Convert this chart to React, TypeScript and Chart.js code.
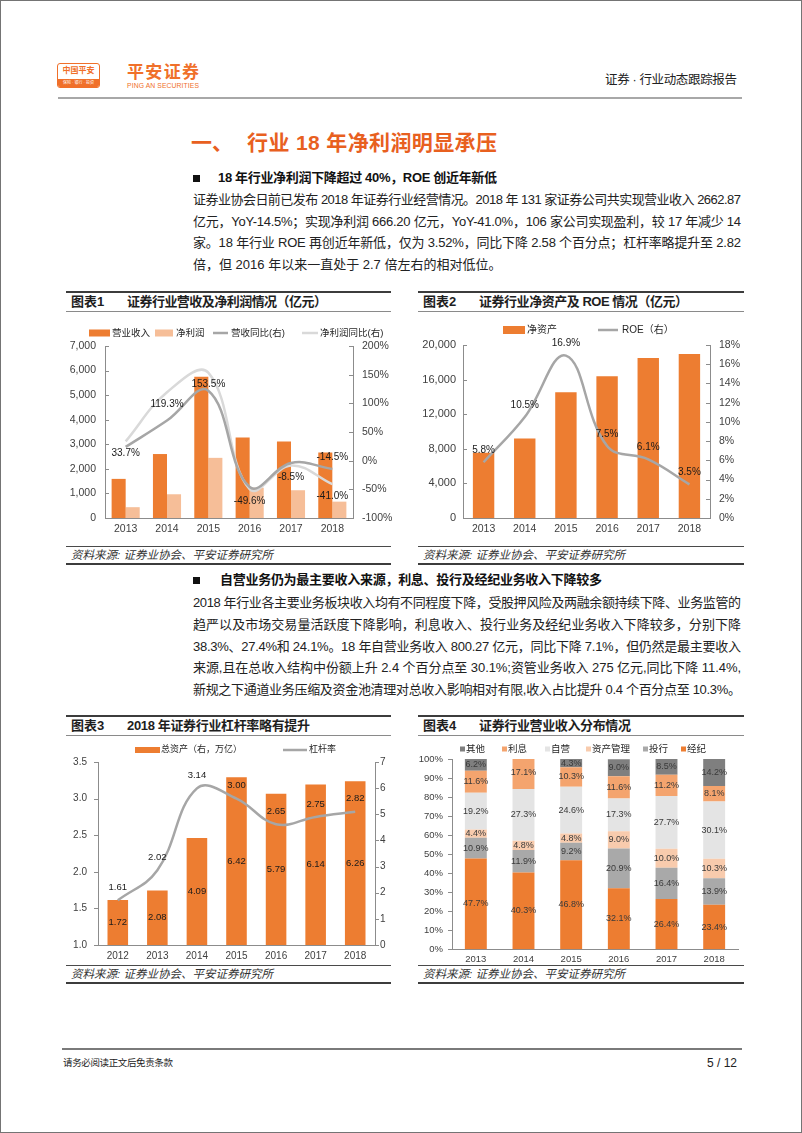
import React, { useEffect, useLayoutEffect, useRef } from "react";
import { Chart, registerables } from "chart.js";

Chart.register(...registerables);

const SANS = '"Liberation Sans", "Noto Sans CJK SC", sans-serif';
const ORANGE = "#ED7D31";
const AXIS = "#8C8C8C";
const TICK_TXT = "#404040";

// ---------- 图表1 ----------
const years1 = ["2013", "2014", "2015", "2016", "2017", "2018"];
const revenue = [1592, 2603, 5752, 3280, 3113, 2663];
const netProfit = [440, 966, 2448, 1234, 1130, 666];
const revenueYoY = [24, 70, 122, -46, -4, -14.5];
const profitYoY = [33.7, 119.3, 153.5, -49.6, -8.5, -41.0];
const revenueYoYLabelIdx = [5];
const left1Ticks = { min: 0, max: 7000, step: 1000 };
const right1Ticks = { min: -100, max: 200, step: 50 };

// ---------- 图表2 ----------
const years2 = ["2013", "2014", "2015", "2016", "2017", "2018"];
const netAssets = [7550, 9200, 14550, 16400, 18500, 18950];
const roe = [5.8, 10.5, 16.9, 7.5, 6.1, 3.5];
const left2Ticks = { min: 0, max: 20000, step: 4000 };
const right2Ticks = { min: 0, max: 18, step: 2 };

// ---------- 图表3 ----------
const years3 = ["2012", "2013", "2014", "2015", "2016", "2017", "2018"];
const totalAssets = [1.72, 2.08, 4.09, 6.42, 5.79, 6.14, 6.26];
const leverage = [1.61, 2.02, 3.14, 3.0, 2.65, 2.75, 2.82];
const left3Ticks = { min: 1.0, max: 3.5, step: 0.5 };
const right3Ticks = { min: 0, max: 7, step: 1 };

// ---------- 图表4 ----------
const years4 = ["2013", "2014", "2015", "2016", "2017", "2018"];
const brokerage = [47.7, 40.3, 46.8, 32.1, 26.4, 23.4];
const investBank = [10.9, 11.9, 9.2, 20.9, 16.4, 13.9];
const assetMgmt = [4.4, 4.8, 4.8, 9.0, 10.0, 10.3];
const proprietary = [19.2, 27.3, 24.6, 17.3, 27.7, 30.1];
const interest = [11.6, 17.1, 10.3, 11.6, 11.2, 8.1];
const others = [6.2, null, 4.3, 9.0, 8.5, 14.2];
const seg4Names = ["经纪", "投行", "资产管理", "自营", "利息", "其他"];

const pct1 = (v: number | null) => (v == null ? null : v.toFixed(1) + "%");
const fix2 = (v: number) => v.toFixed(2);

// ---------- plugins ----------
const valueLabels = {
  id: "valueLabels",
  afterDatasetsDraw(chart: any) {
    const ctx = chart.ctx;
    chart.data.datasets.forEach((ds: any, di: number) => {
      const cfg = ds.vl;
      if (!cfg) return;
      const meta = chart.getDatasetMeta(di);
      ctx.save();
      ctx.font = cfg.font || `10px ${SANS}`;
      ctx.fillStyle = cfg.color || "#1a1a1a";
      ctx.textAlign = "center";
      ctx.textBaseline = "middle";
      meta.data.forEach((el: any, i: number) => {
        const t = cfg.texts[i];
        if (t == null) return;
        let y: number;
        if (cfg.pos === "center") y = (el.y + el.base) / 2;
        else if (cfg.pos === "above") y = el.y - cfg.offset;
        else y = el.y + cfg.offset;
        ctx.fillText(t, el.x, y);
      });
      ctx.restore();
    });
  },
};

const customLegend = {
  id: "customLegend",
  afterDraw(chart: any, _a: any, opts: any) {
    const items = opts.items;
    if (!items) return;
    const ctx = chart.ctx;
    ctx.save();
    ctx.font = opts.font;
    ctx.textBaseline = "middle";
    ctx.textAlign = "left";
    items.forEach((it: any) => {
      const ds = chart.data.datasets[it.ds];
      const y = opts.y;
      if (it.kind === "line") {
        ctx.strokeStyle = ds.borderColor;
        ctx.lineWidth = opts.lineWidth || 2.5;
        ctx.beginPath();
        ctx.moveTo(it.x, y);
        ctx.lineTo(it.x + it.w, y);
        ctx.stroke();
      } else {
        ctx.fillStyle = ds.backgroundColor;
        ctx.fillRect(it.x, y - it.h / 2, it.w, it.h);
      }
      ctx.fillStyle = opts.color || "#262626";
      ctx.fillText(ds.label, it.x + it.w + (it.gap ?? 2), y);
    });
    ctx.restore();
  },
};

const axisTicks = {
  id: "axisTicks",
  afterDatasetsDraw(chart: any, _a: any, opts: any) {
    const list = opts.list || [];
    const ctx = chart.ctx;
    ctx.save();
    ctx.strokeStyle = AXIS;
    ctx.lineWidth = 1;
    list.forEach((it: any) => {
      const s = chart.scales[it.id];
      if (!s) return;
      const x0 = s.position === "left" ? Math.round(s.right) : Math.round(s.left);
      s.ticks.forEach((t: any) => {
        const y = Math.round(s.getPixelForValue(t.value)) + 0.5;
        ctx.beginPath();
        ctx.moveTo(x0, y);
        ctx.lineTo(x0 + it.dir, y);
        ctx.stroke();
      });
    });
    ctx.restore();
  },
};

function yAxis(pos: "left" | "right", r: any, width: number, padding: number, size: number, cb: (v: number) => string, extra: any = {}) {
  return {
    position: pos,
    min: r.min,
    max: r.max,
    grid: { display: false, drawTicks: false },
    border: { display: true, color: AXIS, width: 1 },
    ticks: { stepSize: r.step, font: { family: SANS, size }, color: TICK_TXT, padding, callback: (v: any) => cb(Number(v)) },
    afterFit: (s: any) => {
      s.width = width;
    },
    ...extra,
  };
}

function xAxis(height: number, padding: number, size: number, extra: any = {}) {
  return {
    grid: { display: false, drawTicks: false },
    border: { display: true, color: AXIS, width: 1 },
    ticks: { font: { family: SANS, size }, color: TICK_TXT, padding },
    afterFit: (s: any) => {
      s.height = height;
    },
    ...extra,
  };
}

const baseOpts = {
  responsive: false,
  maintainAspectRatio: false,
  animation: false,
  events: [],
  devicePixelRatio: 1,
};

const comma = (v: number) => v.toLocaleString("en-US");

function makeChart1(): any {
  return {
    type: "bar",
    data: {
      labels: years1,
      datasets: [
        {
          type: "line", label: "营收同比(右)", data: revenueYoY, yAxisID: "y1",
          borderColor: "#A6A6A6", borderWidth: 2.5, pointRadius: 0, tension: 0.4, order: 0,
          vl: { texts: revenueYoY.map((v, i) => (revenueYoYLabelIdx.includes(i) ? pct1(v) : null)), pos: "above", offset: 12 },
        },
        {
          type: "line", label: "净利润同比(右)", data: profitYoY, yAxisID: "y1",
          borderColor: "#D9D9D9", borderWidth: 2.5, pointRadius: 0, tension: 0.4, order: 0,
          vl: { texts: profitYoY.map(pct1), pos: "below", offset: 12 },
        },
        { type: "bar", label: "营业收入", data: revenue, yAxisID: "y", backgroundColor: ORANGE, order: 1, categoryPercentage: 0.68, barPercentage: 1 },
        { type: "bar", label: "净利润", data: netProfit, yAxisID: "y", backgroundColor: "#F6BE98", order: 1, categoryPercentage: 0.68, barPercentage: 1 },
      ],
    },
    options: {
      ...baseOpts,
      layout: { padding: { top: 26, left: 0, right: 0, bottom: 0 } },
      scales: {
        x: xAxis(24, 5, 10.5),
        y: yAxis("left", left1Ticks, 41, 9, 10.5, comma),
        y1: yAxis("right", right1Ticks, 41, 9, 10.5, (v) => v + "%"),
      },
      plugins: {
        legend: { display: false },
        tooltip: { enabled: false },
        customLegend: {
          y: 13, font: `9.5px ${SANS}`,
          items: [
            { ds: 2, kind: "rect", x: 25, w: 21, h: 7, gap: 2 },
            { ds: 3, kind: "rect", x: 91, w: 18, h: 7, gap: 3 },
            { ds: 0, kind: "line", x: 149, w: 15, gap: 3 },
            { ds: 1, kind: "line", x: 238, w: 16, gap: 2 },
          ],
        },
        axisTicks: { list: [{ id: "y", dir: 4 }, { id: "y1", dir: -4 }] },
      },
    },
    plugins: [valueLabels, customLegend, axisTicks],
  };
}

function makeChart2(): any {
  return {
    type: "bar",
    data: {
      labels: years2,
      datasets: [
        {
          type: "line", label: "ROE（右）", data: roe, yAxisID: "y1",
          borderColor: "#A6A6A6", borderWidth: 2.5, pointRadius: 0, tension: 0.4, order: 0,
          vl: { texts: roe.map(pct1), pos: "above", offset: 12 },
        },
        { type: "bar", label: "净资产", data: netAssets, yAxisID: "y", backgroundColor: ORANGE, order: 1, categoryPercentage: 1, barPercentage: 0.52 },
      ],
    },
    options: {
      ...baseOpts,
      layout: { padding: { top: 25, left: 0, right: 0, bottom: 0 } },
      scales: {
        x: xAxis(24, 5, 10.5),
        y: yAxis("left", left2Ticks, 47, 7, 11, comma),
        y1: yAxis("right", right2Ticks, 42, 9, 10.5, (v) => v + "%"),
      },
      plugins: {
        legend: { display: false },
        tooltip: { enabled: false },
        customLegend: {
          y: 10, font: `10px ${SANS}`,
          items: [
            { ds: 1, kind: "rect", x: 87, w: 22, h: 8, gap: 2 },
            { ds: 0, kind: "line", x: 182, w: 20, gap: 4 },
          ],
        },
        axisTicks: { list: [{ id: "y", dir: 4 }, { id: "y1", dir: -4 }] },
      },
    },
    plugins: [valueLabels, customLegend, axisTicks],
  };
}

function makeChart3(): any {
  return {
    type: "bar",
    data: {
      labels: years3,
      datasets: [
        {
          type: "line", label: "杠杆率", data: leverage, yAxisID: "y",
          borderColor: "#A6A6A6", borderWidth: 2.5, pointRadius: 0, tension: 0.4, order: 0,
          vl: { texts: leverage.map(fix2), pos: "above", offset: 13, font: `9.5px ${SANS}` },
        },
        {
          type: "bar", label: "总资产（右，万亿）", data: totalAssets, yAxisID: "y1", backgroundColor: ORANGE,
          order: 1, categoryPercentage: 1, barPercentage: 0.52,
          vl: { texts: totalAssets.map(fix2), pos: "center", font: `9.5px ${SANS}` },
        },
      ],
    },
    options: {
      ...baseOpts,
      layout: { padding: { top: 22, left: 0, right: 0, bottom: 0 } },
      scales: {
        x: xAxis(19, 5, 10),
        y: yAxis("left", left3Ticks, 34, 11, 10, (v) => v.toFixed(1)),
        y1: yAxis("right", right3Ticks, 19, 5, 10, (v) => String(v)),
      },
      plugins: {
        legend: { display: false },
        tooltip: { enabled: false },
        customLegend: {
          y: 10, font: `9px ${SANS}`,
          items: [
            { ds: 1, kind: "rect", x: 71, w: 25, h: 6, gap: 1 },
            { ds: 0, kind: "line", x: 219, w: 24, gap: 2 },
          ],
        },
        axisTicks: { list: [{ id: "y", dir: -4 }, { id: "y1", dir: 4 }] },
      },
    },
    plugins: [valueLabels, customLegend, axisTicks],
  };
}

const colors4 = ["#ED7D31", "#A9A9A9", "#F8CBAD", "#E4E4E4", "#F4A46E", "#7F7F7F"];
const series4 = [brokerage, investBank, assetMgmt, proprietary, interest, others];

function makeChart4(): any {
  return {
    type: "bar",
    data: {
      labels: years4,
      datasets: series4.map((d, i) => ({
        label: seg4Names[i],
        data: d,
        backgroundColor: colors4[i],
        categoryPercentage: 0.46,
        barPercentage: 1,
        vl: { texts: d.map((v) => pct1(v as any)), pos: "center", font: `9px ${SANS}`, color: "#3a3a3a" },
      })),
    },
    options: {
      ...baseOpts,
      layout: { padding: { top: 19, left: 0, right: 14, bottom: 0 } },
      scales: {
        x: xAxis(13, 4, 9.5, { stacked: true }),
        y: yAxis("left", { min: 0, max: 100, step: 10 }, 36, 9, 9.5, (v) => v + "%", { stacked: true }),
      },
      plugins: {
        legend: { display: false },
        tooltip: { enabled: false },
        customLegend: {
          y: 9, font: `9.5px ${SANS}`,
          items: [
            { ds: 5, kind: "rect", x: 44, w: 5, h: 5, gap: 1 },
            { ds: 4, kind: "rect", x: 86, w: 5, h: 5, gap: 1 },
            { ds: 3, kind: "rect", x: 129, w: 5, h: 5, gap: 1 },
            { ds: 2, kind: "rect", x: 170, w: 5, h: 5, gap: 1 },
            { ds: 1, kind: "rect", x: 227, w: 5, h: 5, gap: 1 },
            { ds: 0, kind: "rect", x: 265, w: 5, h: 5, gap: 1 },
          ],
        },
        axisTicks: { list: [{ id: "y", dir: -4 }] },
      },
    },
    plugins: [valueLabels, customLegend, axisTicks],
  };
}

function ChartBox({ make, x, y, w, h }: { make: () => any; x: number; y: number; w: number; h: number }) {
  const ref = useRef<HTMLCanvasElement>(null);
  useEffect(() => {
    if (!ref.current) return;
    const c = new Chart(ref.current, make());
    return () => c.destroy();
  }, []);
  return (
    <div style={{ position: "absolute", left: x, top: y, width: w, height: h }}>
      <canvas ref={ref} width={w} height={h} style={{ display: "block", width: w, height: h }} />
    </div>
  );
}

type TP = {
  x: number; y: number; w?: number; text: string; size: number; bold?: boolean; italic?: boolean;
  color?: string; right?: boolean;
};
function T({ x, y, w, text, size, bold, italic, color, right }: TP) {
  const ref = useRef<HTMLSpanElement>(null);
  useLayoutEffect(() => {
    const el = ref.current;
    if (!el || !w) return;
    const fit = () => {
      el.style.letterSpacing = "0px";
      const nat = el.getBoundingClientRect().width;
      const n = Array.from(text).length;
      if (n > 1) el.style.letterSpacing = (w - nat) / (n - 1) + "px";
    };
    fit();
    const f: any = (document as any).fonts;
    if (f && f.ready) f.ready.then(fit);
  }, [text, w]);
  const lh = Math.round(size * 1.5);
  return (
    <div
      style={{
        position: "absolute",
        left: right ? undefined : x,
        right: right ? 802 - x : undefined,
        top: y - lh / 2,
        height: lh,
        lineHeight: lh + "px",
        fontSize: size,
        fontWeight: bold ? 700 : 400,
        fontStyle: italic ? "italic" : "normal",
        color: color || "#1e1e1e",
        fontFamily: SANS,
        whiteSpace: "nowrap",
      }}
    >
      <span ref={ref}>{text}</span>
    </div>
  );
}

function HLine({ x, y, w, h, c }: { x: number; y: number; w: number; h: number; c: string }) {
  return <div style={{ position: "absolute", left: x, top: y, width: w, height: h, background: c }} />;
}

function Block({ x, w, top, src, num, title, titleW }: { x: number; w: number; top: number; src: number; num: string; title: string; titleW: number }) {
  return (
    <>
      <HLine x={x} y={top} w={w} h={2} c="#3c3c3c" />
      <T x={x + 5} y={top + 11} text={num} size={13} bold />
      <T x={x + 61} y={top + 11} w={titleW} text={title} size={13} bold />
      <HLine x={x} y={top + 20} w={w} h={1} c="#8a8a8a" />
      <HLine x={x} y={src} w={w} h={1} c="#4a4a4a" />
      <T x={x + 5} y={src + 9} text="资料来源: 证券业协会、平安证券研究所" size={11.5} italic color="#333" />
      <HLine x={x} y={src + 17} w={w} h={2} c="#3c3c3c" />
    </>
  );
}

const para1 = [
  "证券业协会日前已发布 2018 年证券行业经营情况。2018 年 131 家证券公司共实现营业收入 2662.87",
  "亿元，YoY-14.5%；实现净利润 666.20 亿元，YoY-41.0%，106 家公司实现盈利，较 17 年减少 14",
  "家。18 年行业 ROE 再创近年新低，仅为 3.52%，同比下降 2.58 个百分点；杠杆率略提升至 2.82",
  "倍，但 2016 年以来一直处于 2.7 倍左右的相对低位。",
];
const para2 = [
  "2018 年行业各主要业务板块收入均有不同程度下降，受股押风险及两融余额持续下降、业务监管的",
  "趋严以及市场交易量活跃度下降影响，利息收入、投行业务及经纪业务收入下降较多，分别下降",
  "38.3%、27.4%和 24.1%。18 年自营业务收入 800.27 亿元，同比下降 7.1%，但仍然是最主要收入",
  "来源,且在总收入结构中份额上升 2.4 个百分点至 30.1%;资管业务收入 275 亿元,同比下降 11.4%,",
  "新规之下通道业务压缩及资金池清理对总收入影响相对有限,收入占比提升 0.4 个百分点至 10.3%。",
];
const para1Y = [200, 222, 243, 265];
const para2Y = [603, 625, 647, 668, 690];

export default function App() {
  const TITLE = "#E8601F";
  const LOGO = "#F0702A";
  return (
    <div style={{ position: "absolute", left: 0, top: 0, width: 802, height: 1133, background: "#fff", overflow: "hidden", fontFamily: SANS }}>
      {/* header logo */}
      <div style={{ position: "absolute", left: 57, top: 63, width: 43, height: 25, boxSizing: "border-box", border: `1.5px solid ${LOGO}`, borderRadius: 3, background: "#fff", overflow: "hidden" }}>
        <div style={{ position: "absolute", left: 0, right: 0, top: 2, textAlign: "center", fontSize: 8, fontWeight: 700, color: LOGO, fontFamily: SANS, lineHeight: "10px" }}>中国平安</div>
        <div style={{ position: "absolute", left: 0, right: 0, bottom: 0, height: 8, background: LOGO, color: "#fff", fontSize: 4, lineHeight: "8px", textAlign: "center" }}>保险 · 银行 · 投资</div>
      </div>
      <T x={127} y={73} w={72} text="平安证券" size={17} bold color={LOGO} />
      <T x={127} y={86} w={72} text="PING AN SECURITIES" size={6.8} color={LOGO} />
      <T x={605} y={80} w={132} text="证券 · 行业动态跟踪报告" size={12.5} color="#222" />
      <HLine x={58} y={97} w={684} h={2} c="#a8a8a8" />

      {/* section title */}
      <T x={191} y={143} text="一、" size={21} bold color={TITLE} />
      <T x={247} y={143} w={250} text="行业 18 年净利润明显承压" size={21} bold color={TITLE} />

      {/* heading 1 */}
      <div style={{ position: "absolute", left: 193, top: 175, width: 7, height: 7, background: "#111" }} />
      <T x={218} y={178} w={279} text="18 年行业净利润下降超过 40%，ROE 创近年新低" size={13} bold color="#111" />
      {para1.map((s, i) => (
        <T key={"p1" + i} x={193} y={para1Y[i]} w={i < para1.length - 1 ? 548 : undefined} text={s} size={13} color="#222" />
      ))}

      <Block x={66} w={325} top={291} src={546} num="图表1" title="证券行业营收及净利润情况（亿元）" titleW={200} />
      <Block x={418} w={326} top={291} src={546} num="图表2" title="证券行业净资产及 ROE 情况（亿元）" titleW={209} />
      <ChartBox make={makeChart1} x={64} y={320} w={330} h={222} />
      <ChartBox make={makeChart2} x={416} y={320} w={336} h={222} />

      {/* heading 2 */}
      <div style={{ position: "absolute", left: 193, top: 577, width: 7, height: 7, background: "#111" }} />
      <T x={220} y={580} w={382} text="自营业务仍为最主要收入来源，利息、投行及经纪业务收入下降较多" size={13} bold color="#111" />
      {para2.map((s, i) => (
        <T key={"p2" + i} x={193} y={para2Y[i]} w={548} text={s} size={13} color="#222" />
      ))}

      <Block x={66} w={325} top={715} src={965} num="图表3" title="2018 年证券行业杠杆率略有提升" titleW={183} />
      <Block x={418} w={326} top={715} src={965} num="图表4" title="证券行业营业收入分布情况" titleW={152} />
      <ChartBox make={makeChart3} x={64} y={740} w={330} h={224} />
      <ChartBox make={makeChart4} x={416} y={740} w={336} h={224} />

      {/* footer */}
      <HLine x={62} y={1048} w={680} h={2} c="#7a7a7a" />
      <T x={63} y={1063} w={110} text="请务必阅读正文后免责条款" size={9.5} color="#222" />
      <T x={737} y={1063} right text="5 / 12" size={12} color="#222" />

      <div style={{ position: "absolute", left: 0, top: 0, width: 802, height: 1133, boxSizing: "border-box", border: "1px solid #747474", pointerEvents: "none" }} />
    </div>
  );
}
